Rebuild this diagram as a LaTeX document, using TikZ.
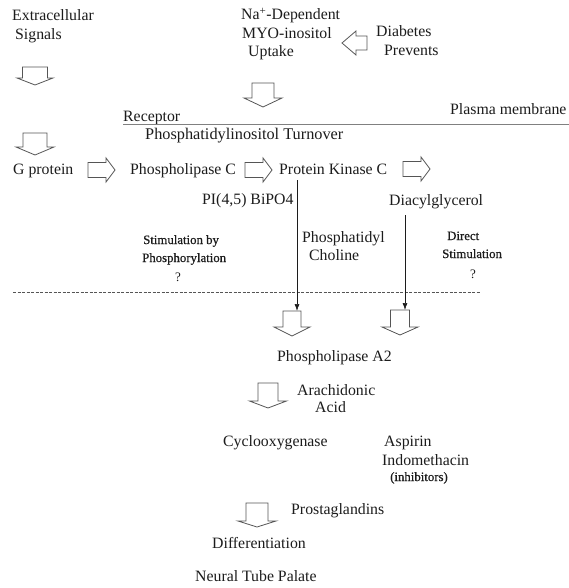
\documentclass[tikz,border=0pt]{standalone}
\usepackage{fontspec}
\setmainfont{Liberation Serif}
\newfontfamily\semiboldserif[FakeBold=0.6]{Liberation Serif}
\usetikzlibrary{arrows.meta}
\definecolor{ink}{HTML}{1C1C1C}
\definecolor{edgegray}{HTML}{555555}
\definecolor{memgray}{HTML}{808080}
\newcommand\blockdown[6]{\draw[blockarrow] (#1-#3,#2) -- (#1-#3,#5) -- (#1-#4,#5) -- (#1,#6) -- (#1+#4,#5) -- (#1+#3,#5) -- (#1+#3,#2) -- cycle;}
\newcommand\blockside[6]{\draw[blockarrow] (#1,#2-#3) -- (#5,#2-#3) -- (#5,#2-#4) -- (#6,#2) -- (#5,#2+#4) -- (#5,#2+#3) -- (#1,#2+#3) -- cycle;}
\tikzset{
  lbl/.style={anchor=base west, inner sep=0pt, text=ink, font=\fontsize{15.8}{19}\selectfont},
  smalllbl/.style={lbl, font=\semiboldserif\fontsize{12.8}{14}\selectfont},
  qmark/.style={lbl, font=\fontsize{13}{15}\selectfont},
  blockarrow/.style={draw=edgegray, line width=0.8pt, fill=white, line join=miter},
  thinarrow/.style={draw=ink, line width=0.7pt, -{Latex[length=7pt,width=5pt]}},
  membrane/.style={draw=memgray, line width=0.9pt},
  cutline/.style={draw=edgegray, line width=0.8pt, dash pattern=on 3pt off 1.5pt}
}
\begin{document}
\begin{tikzpicture}[x=1pt,y=-1pt]
\fill[white] (0,0) rectangle (569,588);
\useasboundingbox (0,0) rectangle (569,588);

% top texts
\node[lbl] (ext1) at (12,21) {Extracellular};
\node[lbl] (ext2) at (15,40) {Signals};
\node[lbl] (na1) at (241,20) {Na\textsuperscript{+}-Dependent};
\node[lbl] (na2) at (242,39) {MYO-inositol};
\node[lbl] (na3) at (248,57) {Uptake};
\node[lbl] (dia1) at (376,37) {Diabetes};
\node[lbl] (dia2) at (384,56) {Prevents};

% hollow arrows, top
\blockdown{35}{67}{12.5}{18}{78}{85}
\blockdown{263}{83}{11}{19}{98}{107}
\blockside{367}{43}{7}{12}{356}{342}

% membrane
\node[lbl] (rec) at (123,122) {Receptor};
\node[lbl] (pm) at (450,115) {Plasma membrane};
\coordinate (memL) at (123,124);
\coordinate (memR) at (569,124);
\draw[membrane] (memL) -- (memR);
\node[lbl, font=\fontsize{16.3}{19}\selectfont] (pit) at (145,140) {Phosphatidylinositol Turnover};

% second row
\blockdown{35}{133}{12}{19}{147}{155}
\node[lbl] (gp) at (13,175) {G protein};
\blockside{88}{170}{7.5}{12}{106}{115}
\node[lbl] (plc) at (130,175) {Phospholipase C};
\blockside{245}{170}{7.5}{12}{263}{272}
\node[lbl] (pkc) at (279,175) {Protein Kinase C};
\blockside{403}{169}{7.5}{12}{421}{430}

% branches
\node[lbl] (pip) at (202,204) {PI(4,5) BiPO4};
\node[lbl] (dag) at (389,205) {Diacylglycerol};
\node[lbl] (pc1) at (302,242) {Phosphatidyl};
\node[lbl] (pc2) at (309,260) {Choline};
\node[smalllbl] (st1) at (143,244) {Stimulation by};
\node[smalllbl] (st2) at (142,262) {Phosphorylation};
\node[qmark] (q1) at (175,281) {?};
\node[smalllbl] (ds1) at (447,240) {Direct};
\node[smalllbl] (ds2) at (442,258) {Stimulation};
\node[qmark] (q2) at (470,278) {?};

% dashed boundary
\coordinate (dashL) at (13,292);
\coordinate (dashR) at (481,292);
\draw[cutline] (dashL) -- (dashR);

% thin arrows
\coordinate (pkcdrop) at (297,180);
\coordinate (pla1top) at (297,311);
\coordinate (dagdrop) at (405,215);
\coordinate (pla2top) at (405,310);
\blockdown{292}{311}{9}{18}{327}{336}
\blockdown{400}{310}{9.5}{18}{327}{335}
\draw[thinarrow] (pkcdrop) -- (pla1top);
\draw[thinarrow] (dagdrop) -- (pla2top);

% lower cascade
\node[lbl] (pla2) at (277,361) {Phospholipase A2};
\blockdown{268}{383}{10}{18.5}{401}{408}
\node[lbl] (ara1) at (297,395) {Arachidonic};
\node[lbl] (ara2) at (315,412) {Acid};
\node[lbl] (cox) at (223,446) {Cyclooxygenase};
\node[lbl] (asp1) at (384,446) {Aspirin};
\node[lbl] (asp2) at (382,465) {Indomethacin};
\node[smalllbl] (inh) at (390,481) {(inhibitors)};
\blockdown{257}{503}{11}{19}{521}{527}
\node[lbl] (pg) at (291,514) {Prostaglandins};
\node[lbl] (diff) at (212,548) {Differentiation};
\node[lbl] (ntp) at (195,581) {Neural Tube Palate};
\end{tikzpicture}
\end{document}
